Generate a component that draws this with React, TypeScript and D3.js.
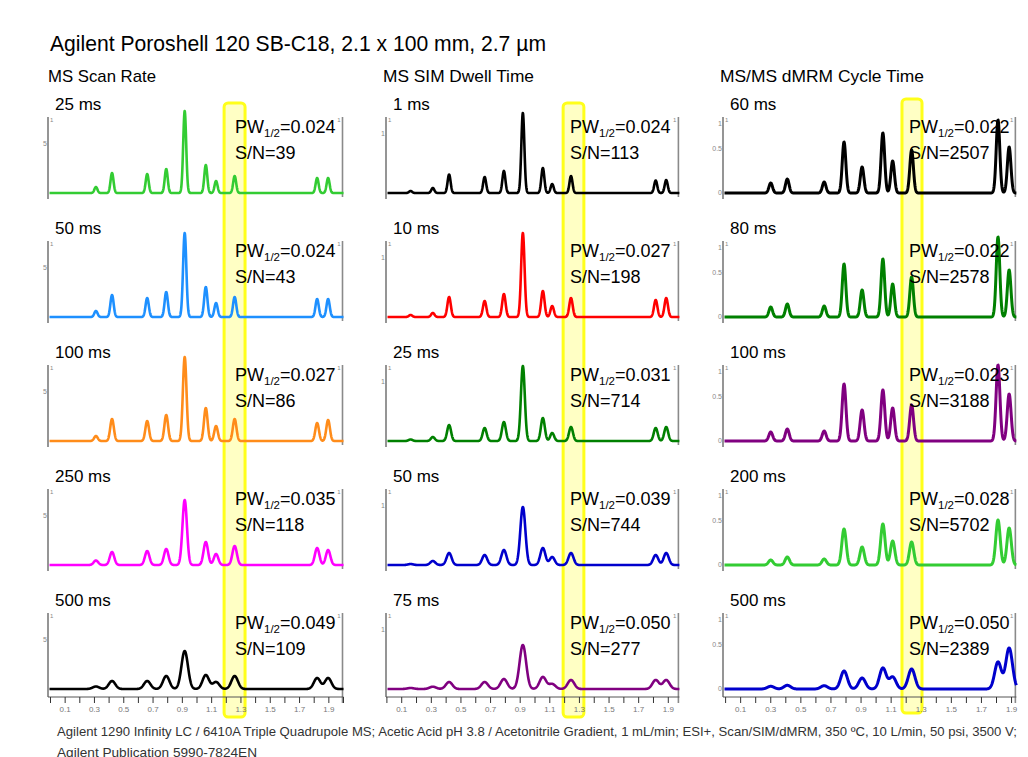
import React from "react";
import * as d3 from "d3";

// --- data ---
const subtitle = "Agilent Poroshell 120 SB-C18, 2.1 x 100 mm, 2.7 µm";
const columnTitles = ["MS Scan Rate", "MS SIM Dwell Time", "MS/MS dMRM Cycle Time"];
const footerLines = [
  "Agilent 1290 Infinity LC / 6410A Triple Quadrupole MS; Acetic Acid pH 3.8 / Acetonitrile Gradient, 1 mL/min; ESI+, Scan/SIM/dMRM, 350 ºC, 10 L/min, 50 psi, 3500 V;",
  "Agilent Publication 5990-7824EN",
];

const scanLabels = ["25 ms", "50 ms", "100 ms", "250 ms", "500 ms"];
const simLabels = ["1 ms", "10 ms", "25 ms", "50 ms", "75 ms"];
const mrmLabels = ["60 ms", "80 ms", "100 ms", "200 ms", "500 ms"];

const scanPW = ["0.024", "0.024", "0.027", "0.035", "0.049"];
const simPW = ["0.024", "0.027", "0.031", "0.039", "0.050"];
const mrmPW = ["0.022", "0.022", "0.023", "0.028", "0.050"];

const scanSN = ["39", "43", "86", "118", "109"];
const simSN = ["113", "198", "714", "744", "277"];
const mrmSN = ["2507", "2578", "3188", "5702", "2389"];

const scanColors = ["#33cc33", "#1e90ff", "#ff8c1a", "#ff00ff", "#000000"];
const simColors = ["#000000", "#ff0000", "#008000", "#0000cc", "#800080"];
const mrmColors = ["#000000", "#008000", "#800080", "#33cc33", "#0000cc"];

// retention times (min)
const scanRT = [0.31, 0.42, 0.66, 0.79, 0.916, 1.06, 1.13, 1.257, 1.82, 1.895];
const simRT = [0.16, 0.31, 0.42, 0.66, 0.79, 0.918, 1.053, 1.116, 1.243, 1.815, 1.886];
const mrmRT = [0.3, 0.41, 0.655, 0.787, 0.907, 1.045, 1.11, 1.236, 1.81, 1.884];

// relative peak response per trace
const scanHeights = [
  [6, 20, 19, 24, 82, 28, 12, 17, 15, 15],
  [6, 22, 19, 25, 84, 30, 14, 20, 18, 18],
  [5, 22, 20, 26, 84, 33, 15, 22, 18, 21],
  [4.5, 13, 14, 16, 65, 23, 11, 19, 17, 15],
  [2.5, 8, 8, 13, 38, 14, 7, 13, 11, 11],
];
const simHeights = [
  [2, 5, 18.5, 16, 22, 80, 25, 9, 17, 12.5, 13],
  [2, 4, 20, 16, 23, 84, 26, 11, 19, 17, 19],
  [1.5, 4, 16, 13, 19, 75, 23, 8, 14, 13, 14],
  [1, 4, 12, 10, 15, 58, 17, 8, 12, 10, 12],
  [1, 2.3, 7, 7, 10, 44, 12, 5, 9, 9, 9],
];
const mrmHeights = [
  [10, 14, 11, 51, 26, 60, 32, 43, 73, 46],
  [10, 13, 11, 53, 27, 58, 33, 40, 80, 47],
  [9, 12, 10, 57, 31, 51, 33, 36, 76, 47],
  [5, 8, 6, 36, 18, 41, 24, 23, 45, 37],
  [2.7, 3.7, 3.3, 18, 11, 21, 12, 20, 27, 41],
];

// visible peak width at half height (min)
const scanWidths = [0.024, 0.026, 0.029, 0.036, 0.052];
const simWidths = [0.024, 0.027, 0.031, 0.04, 0.052];
const mrmWidths = [0.028, 0.028, 0.03, 0.034, 0.052];

// highlighted peak window (min)
const highlight = [
  [1.185, 1.328],
  [1.19, 1.33],
  [1.172, 1.305],
];

const tickLabels = ["0.1", "0.3", "0.5", "0.7", "0.9", "1.1", "1.3", "1.5", "1.7", "1.9"];

const columns = [
  { title: columnTitles[0], labels: scanLabels, pw: scanPW, sn: scanSN, colors: scanColors, rt: scanRT, heights: scanHeights, widths: scanWidths },
  { title: columnTitles[1], labels: simLabels, pw: simPW, sn: simSN, colors: simColors, rt: simRT, heights: simHeights, widths: simWidths },
  { title: columnTitles[2], labels: mrmLabels, pw: mrmPW, sn: mrmSN, colors: mrmColors, rt: mrmRT, heights: mrmHeights, widths: mrmWidths },
];

// --- layout ---
const W = 1028;
const H = 757;
const FONT = "'Liberation Sans', Arial, Helvetica, sans-serif";
const colLayout = [
  { x0: 50.5, pxPerMin: 146.5, tEnd: 2.0, axisX: 48, titleX: 48, titleW: 108, textX: 235, hlTop: 103 },
  { x0: 386.9, pxPerMin: 148.1, tEnd: 1.975, axisX: 386, titleX: 383, titleW: 151, textX: 570, hlTop: 103 },
  { x0: 725.6, pxPerMin: 150.5, tEnd: 1.932, axisX: 723, titleX: 720, titleW: 204, textX: 909, hlTop: 99 },
];
const baseY = (r) => 193 + 124 * r;
const xAxisY = 697;
const axisGray = "#8a8a8a";

function Panel({ col, row }) {
  const c = columns[col];
  const L = colLayout[col];
  const x = d3.scaleLinear().domain([0, L.tEnd]).range([L.x0, L.x0 + L.pxPerMin * L.tEnd]);
  const b = baseY(row);
  const y = d3.scaleLinear().domain([0, 100]).range([b, b - 100]);
  const rightX = x(L.tEnd);
  const tStart = x.invert(L.axisX + 1.5);
  const heights = c.heights[row];
  const w = c.widths[row];
  const k = (4 * Math.LN2) / (w * w);
  const samples = d3.range(tStart, L.tEnd, 0.0015).concat([L.tEnd]).map((t) => {
    let v = 0;
    c.rt.forEach((rt, i) => {
      v += heights[i] * Math.exp(-k * (t - rt) * (t - rt));
    });
    return [t, v];
  });
  const line = d3
    .line()
    .x((d) => x(d[0]))
    .y((d) => y(d[1]));
  const top = b - 76;
  const last = row === 4;
  const bottom = last ? xAxisY : b + 6;
  const sw = col === 2 ? 3 : 2.6;

  return (
    <g>
      {/* y axes */}
      <line x1={L.axisX} x2={L.axisX} y1={top} y2={bottom} stroke={axisGray} strokeWidth={1.8} />
      <line x1={rightX - 1} x2={rightX - 1} y1={top} y2={last ? xAxisY + 6 : b + 4} stroke={axisGray} strokeWidth={1.6} />
      <text x={L.axisX + 2} y={top + 5} fontSize={6} fill="#888">1</text>
      <text x={rightX - 3} y={top + 5} fontSize={6} fill="#888" textAnchor="end">1</text>
      {col === 0 && (
        <text x={L.axisX - 1} y={b - 47} fontSize={7} fill="#888" textAnchor="end">5</text>
      )}
      {col === 1 && (
        <text x={L.axisX - 1} y={b - 57} fontSize={7} fill="#888" textAnchor="end">1</text>
      )}
      {col === 2 && (
        <g fontSize={7} fill="#888" textAnchor="end">
          <text x={L.axisX - 1} y={b - 67}>1</text>
          <text x={L.axisX - 1} y={b - 42}>0.5</text>
          <text x={L.axisX - 1} y={b + 2}>0</text>
        </g>
      )}
      {/* x axis on bottom row */}
      {last && (
        <g>
          <line x1={L.axisX} x2={rightX} y1={xAxisY} y2={xAxisY} stroke="#555" strokeWidth={1} />
          {d3.range(0, L.tEnd + 1e-6, 0.1).map((t, i) => (
            <line key={i} x1={x(t)} x2={x(t)} y1={xAxisY} y2={xAxisY + 6} stroke="#333" strokeWidth={1} />
          ))}
          {tickLabels.map((lab) => (
            <text key={lab} x={x(+lab)} y={xAxisY + 15} fontSize={8} fill="#777" textAnchor="middle">
              {lab}
            </text>
          ))}
        </g>
      )}
      {/* row label */}
      <text x={L.axisX + 7} y={b - 83} fontSize={17} fill="#000">
        {c.labels[row]}
      </text>
      {/* trace */}
      <path d={line(samples)} fill="none" stroke={c.colors[row]} strokeWidth={sw} strokeLinejoin="round" />
      {/* annotation */}
      <text x={L.textX} y={b - 60} fontSize={18} fill="#000">
        PW
        <tspan fontSize={11.5} dy={4}>
          1/2
        </tspan>
        <tspan dy={-4}>={c.pw[row]}</tspan>
      </text>
      <text x={L.textX} y={b - 34} fontSize={18} fill="#000">
        S/N={c.sn[row]}
      </text>
    </g>
  );
}

function Highlight({ col }) {
  const L = colLayout[col];
  const x = d3.scaleLinear().domain([0, L.tEnd]).range([L.x0, L.x0 + L.pxPerMin * L.tEnd]);
  const [a, b] = highlight[col];
  return (
    <rect
      x={x(a)}
      y={L.hlTop}
      width={x(b) - x(a)}
      height={614}
      rx={4}
      fill="#ffffc4"
      stroke="#ffff1a"
      strokeWidth={3}
    />
  );
}

export default function App() {
  return (
    <svg
      width={W}
      height={H}
      style={{ position: "absolute", left: 0, top: 0, background: "#fff", display: "block" }}
      fontFamily={FONT}
    >
      <rect width={W} height={H} fill="#fff" />
      <text x={50} y={51} fontSize={22} fill="#000" textLength={496} lengthAdjust="spacingAndGlyphs">
        {subtitle}
      </text>
      {columns.map((c, i) => (
        <text
          key={i}
          x={colLayout[i].titleX}
          y={82}
          fontSize={17}
          fill="#000"
          textLength={colLayout[i].titleW}
          lengthAdjust="spacingAndGlyphs"
        >
          {c.title}
        </text>
      ))}
      {[0, 1, 2].map((i) => (
        <Highlight key={i} col={i} />
      ))}
      {[0, 1, 2].map((ci) =>
        [0, 1, 2, 3, 4].map((ri) => <Panel key={ci + "-" + ri} col={ci} row={ri} />)
      )}
      <text x={57} y={736} fontSize={13} fill="#333" textLength={960} lengthAdjust="spacingAndGlyphs">
        {footerLines[0]}
      </text>
      <text x={57} y={757} fontSize={13} fill="#333" textLength={200} lengthAdjust="spacingAndGlyphs">
        {footerLines[1]}
      </text>
    </svg>
  );
}
